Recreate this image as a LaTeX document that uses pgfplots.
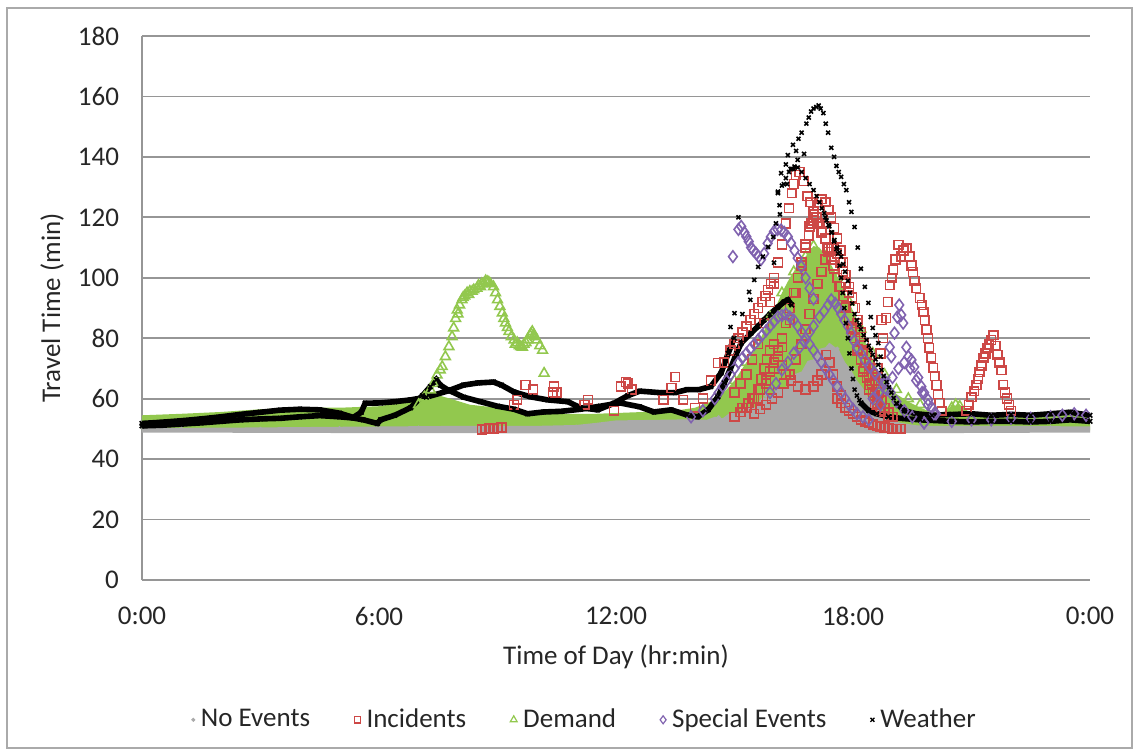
\documentclass[border=0pt]{standalone}
\usepackage{fontspec}
\setmainfont{Carlito}
\usepackage{pgfplots}
\pgfplotsset{compat=1.18}
\definecolor{gridc}{RGB}{150,150,150}
\definecolor{grayc}{RGB}{170,170,170}
\definecolor{redc}{RGB}{205,72,70}
\definecolor{greenc}{RGB}{146,200,78}
\definecolor{purplec}{RGB}{128,98,175}
\definecolor{framec}{RGB}{170,170,170}
\newcommand{\fs}{\fontsize{13.5}{16}\selectfont}
\begin{document}
\begin{tikzpicture}
\begin{axis}[
  width=474pt, height=272pt, scale only axis,
  xmin=0, xmax=24, ymin=0, ymax=180,
  xtick={0,6,12,18,24}, xticklabels={0:00,6:00,12:00,18:00,0:00},
  ytick={0,20,...,180},
  axis x line*=bottom, axis y line*=left,
  axis line style={gridc, line width=1.2pt, -},
  ymajorgrids, grid style={gridc, line width=0.9pt},
  major tick length=0pt,
  tick label style={font=\fs, text=black!85},
  /pgf/number format/assume math mode=true,
  yticklabel style={xshift=-8pt},
  xticklabel style={yshift=-10pt},
  xlabel={Time of Day (hr:min)}, ylabel={Travel Time (min)},
  xlabel style={at={(axis description cs:0.5,-0.1415)}, anchor=center, font=\fs, text=black!85},
  ylabel style={at={(axis description cs:-0.0949,0.5)}, anchor=center, font=\fs, text=black!85},
  legend style={at={(axis description cs:0.468,-0.257)}, anchor=center, draw=none, fill=none,
    legend columns=-1, font=\fs, text=black!85,
    /tikz/every odd column/.append style={column sep=1pt},
    /tikz/every even column/.append style={column sep=20pt}},
  legend image code/.code={\draw[#1] plot coordinates {(0pt,0pt)};},
  redsq/.style={forget plot, only marks, mark=square, mark size=2.2pt, color=redc, mark options={line width=0.8pt}},
  grtri/.style={forget plot, only marks, mark=triangle, mark size=2.8pt, color=greenc, mark options={line width=0.8pt}},
  pudia/.style={forget plot, only marks, mark=diamond, mark size=2.9pt, color=purplec, mark options={line width=0.8pt}},
  blx/.style={forget plot, only marks, mark=x, mark size=1.4pt, color=black, mark options={line width=0.8pt}},
  bline/.style={forget plot, black, line width=2.8pt, mark=x, mark size=1.6pt, mark options={line width=0.8pt}},
]
% ---------------- Demand dense cloud ----------------
\addplot[forget plot, draw=none, fill=greenc] coordinates {
(0,54.5) (1,55) (2,55.6) (3,56.5) (4,57) (5,57) (6,57.5) (6.5,58.5) (7,60) (7.4,61.5) (7.8,60) (8.3,58) (9,57) (9.8,55.5) (10.5,55) (11.5,55) (12.5,55.5) (13.5,56) (14,57) (14.4,59) (14.8,63) (15.0,66) (15.2,70) (15.4,74) (15.6,78) (15.8,84) (16.0,89) (16.2,95) (16.4,100) (16.6,104) (16.8,107) (17.0,110.5) (17.15,110) (17.3,107.5) (17.5,103) (17.7,98) (17.9,92) (18.1,86) (18.3,79) (18.5,73) (18.7,67.5) (18.9,64) (19.1,61.5) (19.4,59) (19.7,57) (20.0,55.5) (20.3,55.5) (20.5,57.5) (20.7,58) (20.9,56) (21.3,55) (22,55) (23,55) (24,55)
(24,49.5) (0,49.5)};
% ---------------- No Events dense cloud ----------------
\addplot[forget plot, draw=none, fill=grayc] coordinates {
(0,50.3) (2,50.4) (4,50.6) (6,50.8) (8,51) (10,51) (11,51.3) (11.5,52) (12,52.8) (13,53) (14,53.2) (14.3,53) (14.5,54) (14.7,53.5) (14.9,55.5) (15.1,55) (15.3,57.5) (15.5,57) (15.7,60.5) (15.9,60) (16.1,64) (16.3,63.5) (16.5,68) (16.7,69) (16.85,72.5) (17.0,73) (17.15,76.5) (17.3,77) (17.4,78.5) (17.5,77.5) (17.65,76) (17.8,72) (17.95,69.5) (18.1,66) (18.25,63.5) (18.4,60) (18.55,57.5) (18.7,55.5) (18.9,53.5) (19.2,52) (19.6,51.2) (20,51) (22,51) (24,50.8)
(24,48.8) (18,48.5) (12,48.5) (6,48.6) (0,48.8)};
\addplot[forget plot, only marks, mark=*, mark size=0.9pt, color=grayc] coordinates {
(1,50) (3,50) (5,50.2) (7,50.4) (9,50.6) (11,50.6) (13,51.5) (21,50.5) (23,50.5)
(14.6,53.8) (15.2,56.5) (15.8,61) (16.4,66) (16.9,71) (17.2,75) (17.6,76.5) (18.0,70) (18.5,59) (19.0,52.5)};
% ---------------- Demand triangles ----------------
\addplot[grtri] coordinates {
(7.0,58) (7.15,60.5) (7.3,62.9) (7.38,65) (7.47,67.8) (7.55,69.5) (7.6,70.6) (7.68,73.9) (7.77,77.2) (7.85,80.5) (7.89,83.4) (7.94,86.5) (7.98,89.3) (8.04,91) (8.1,92.7) (8.17,94) (8.23,95) (8.3,95.5) (8.4,96) (8.48,96.5) (8.57,97) (8.65,98) (8.74,98.7) (8.82,98) (8.9,97) (8.95,95) (9.0,92.7) (9.06,90.5) (9.12,88.3) (9.16,86.5) (9.2,85) (9.25,83.5) (9.29,82.2) (9.35,80.5) (9.42,79.4) (9.5,78.5) (9.59,77.2) (9.67,78) (9.76,79.4) (9.82,81) (9.88,82.2) (9.94,80.5) (10.0,79.4) (10.07,77.5) (10.14,76) (10.18,68.4)
(8.0,88) (8.13,93.5) (8.27,94.5) (8.36,95.5) (8.52,97.5) (8.6,98) (8.7,99) (8.78,98.5) (9.45,78) (9.55,77.5) (9.63,77) (9.72,78.5) (9.85,81.5) (9.92,81)
(15.0,66) (15.3,72) (15.6,78) (15.9,87) (16.2,95) (16.5,102) (16.8,107) (17.0,110.5) (17.3,107) (17.6,100) (17.9,92) (18.2,83) (18.5,75) (18.8,68) (19.1,63) (19.4,60) (19.7,58)
(20.5,57) (20.6,58) (20.7,57.5)};
% ---------------- Incidents ----------------
\addplot[redsq] coordinates {
(8.6,49.8) (8.7,50) (8.8,50.2) (8.9,50) (9.0,50.3) (9.1,50.5) (9.42,58) (9.5,59.6) (9.71,64.5) (9.9,63) (10.4,62) (10.43,64) (10.5,62) (11.2,58) (11.29,59.6) (11.95,56) (12.12,64) (12.25,65.5) (12.3,65) (12.4,63) (13.2,59.6) (13.4,63.5) (13.5,67.2) (13.7,59.6) (14.0,57) (14.2,60)};
\addplot[redsq] coordinates {
(15.0,62) (15.15,65) (15.3,68) (15.45,73) (15.6,78) (15.75,85) (15.9,92) (16.0,98) (16.1,105) (16.2,111) (16.3,118) (16.38,123) (16.45,128) (16.5,131) (16.55,134) (16.65,135) (16.75,132) (16.85,127) (16.92,125) (17.0,122) (17.08,120) (17.15,118) (17.22,115.5) (17.3,113) (17.38,109.5) (17.45,106) (17.52,103) (17.6,100) (17.68,97) (17.75,94) (17.82,90.5) (17.9,87) (17.98,83.5) (18.05,80) (18.12,76.5) (18.2,73) (18.28,70) (18.35,67) (18.42,64.5) (18.5,62) (18.6,59.5) (18.7,57) (18.8,55.5) (18.9,54)};
\addplot[redsq] coordinates {
(15.2,57) (15.35,58.5) (15.5,60) (15.65,63) (15.8,66) (15.9,69) (16.0,72) (16.1,76) (16.2,80) (16.3,85) (16.4,90) (16.5,95) (16.6,100) (16.7,105) (16.8,110) (16.88,114) (16.95,118) (17.02,121) (17.1,124) (17.2,126) (17.3,125) (17.38,122.5) (17.45,120) (17.52,116.5) (17.6,113) (17.68,109) (17.75,105) (17.82,101) (17.9,97) (17.98,93.5) (18.05,90) (18.12,86) (18.2,82) (18.28,78.5) (18.35,75) (18.42,71.5) (18.5,68) (18.58,65) (18.65,62) (18.72,59.5) (18.8,57) (18.9,55.5) (19.0,54)};
\addplot[redsq] coordinates {
(15.6,60) (15.8,65) (16.0,70) (16.2,77) (16.4,86) (16.55,95) (16.7,104) (16.8,111) (16.9,117) (17.0,119) (17.1,118) (17.2,115) (17.35,110) (17.5,104) (17.65,97) (17.8,90) (17.95,83) (18.1,76) (18.25,69) (18.4,63) (18.55,58)};
\addplot[redsq] coordinates {
(15.5,55) (15.65,56.5) (15.8,58) (15.95,60) (16.1,62) (16.25,65) (16.4,68) (16.55,73) (16.7,78) (16.8,83) (16.9,88) (17.0,93) (17.1,98) (17.2,102) (17.3,106) (17.38,108.5) (17.45,110) (17.52,109.5) (17.6,108) (17.68,105) (17.75,102) (17.82,98.5) (17.9,95) (18.0,90) (18.1,85) (18.18,80.5) (18.25,76) (18.32,72) (18.4,68) (18.48,64.5) (18.55,61) (18.62,58.5) (18.7,56)};
\addplot[redsq] coordinates {
(15.0,54) (15.15,55.5) (15.3,57) (15.45,60) (15.6,63) (15.68,66.5) (15.75,70) (15.82,73) (15.9,76) (16.0,78) (16.1,74) (16.2,71) (16.3,68) (16.43,66) (16.6,64) (16.8,63) (17.0,64) (17.1,66) (17.2,68) (17.32,74.5) (17.4,72) (17.5,68) (17.6,64) (17.7,61)
(17.6,60) (17.7,58.5) (17.8,57) (17.9,56) (18.0,55) (18.1,54) (18.2,53) (18.3,52.5) (18.4,52) (18.5,51.5) (18.6,51) (18.7,50.8) (18.8,50.5) (18.9,50.3) (19.0,50) (19.1,50) (19.2,50)
(14.4,66) (14.58,71.8) (14.74,72) (14.9,76) (15.0,78) (15.1,80) (15.2,82) (15.3,84) (15.4,86) (15.5,88) (15.6,90) (15.7,92) (15.78,94) (15.85,96) (15.92,98) (16.0,100)};
\addplot[redsq] coordinates {
(18.55,66) (18.62,70) (18.7,75) (18.72,86) (18.76,80) (18.84,86.7) (18.88,92) (18.93,97.6) (18.98,100) (19.02,102.6) (19.08,106) (19.15,110.9) (19.22,107) (19.28,109) (19.35,109.8) (19.43,107) (19.48,104) (19.52,101.9) (19.56,99) (19.6,96.6) (19.69,93.3) (19.74,91) (19.78,88.7) (19.82,86) (19.86,82.7) (19.9,80) (19.93,76.8) (19.98,73.5) (20.03,70.2) (20.07,67.5) (20.11,64.5) (20.15,61.5) (20.19,58.6) (20.25,56)
(20.87,56) (20.93,58) (21.0,60.5) (21.07,62.5) (21.13,64.5) (21.17,66.5) (21.2,68.8) (21.25,71) (21.3,73.5) (21.35,75) (21.4,76.8) (21.45,78) (21.5,79.4) (21.56,81) (21.61,77.5) (21.66,74.5) (21.71,72) (21.76,69.5) (21.8,64.5) (21.85,62) (21.9,60) (21.95,58) (22.0,56)};
% ---------------- Special Events ----------------
\addplot[pudia] coordinates {
(14.96,107) (15.1,116) (15.17,117) (15.25,115) (15.3,113.6) (15.36,112) (15.42,110) (15.48,109) (15.55,108) (15.61,107) (15.67,106) (15.75,108) (15.84,111.4) (15.92,113.5) (16.0,115.3) (16.09,116) (16.18,115.8) (16.26,115) (16.35,113.6) (16.43,111.5) (16.52,109) (16.6,106.5) (16.69,103.7) (16.8,100) (16.9,96.5) (17.0,93)};
\addplot[pudia] coordinates {
(13.9,54) (14.2,56) (14.5,60) (14.6,62) (14.7,64) (14.8,66) (14.9,68) (15.0,70) (15.1,72) (15.2,73.5) (15.3,75) (15.4,76.5) (15.5,78) (15.6,79.5) (15.7,81) (15.8,82.5) (15.9,84) (16.0,85.5) (16.1,87) (16.2,87.5) (16.3,88) (16.4,87) (16.5,86) (16.6,84) (16.7,82) (16.8,80) (16.9,78) (17.0,76) (17.1,74) (17.2,72) (17.3,70) (17.4,68) (17.5,66) (17.6,64) (17.7,62) (17.8,60) (17.9,58) (18.0,56.5) (18.1,55) (18.25,54) (18.4,53)};
\addplot[pudia] coordinates {
(15.9,62) (16.05,65) (16.2,69.5) (16.35,72) (16.5,75) (16.65,77) (16.77,79) (16.9,82) (17.0,84) (17.15,87) (17.27,89) (17.37,91) (17.45,92.7) (17.55,91.5) (17.62,90) (17.7,88) (17.78,86) (17.87,84) (17.95,81.7) (18.03,79) (18.1,77) (18.2,75) (18.3,72.8) (18.42,70.5) (18.55,68.5) (18.68,66.5) (18.8,65) (18.95,62) (19.1,59) (19.3,56) (19.5,54) (19.8,52)};
\addplot[pudia] coordinates {
(18.5,60) (18.65,62) (18.8,66) (18.93,77) (18.97,73.9) (19.05,81.7) (19.12,87) (19.17,91) (19.22,87.7) (19.27,85) (19.35,77) (19.4,73.9) (19.48,72.8) (19.55,70.5) (19.65,67) (19.73,64) (19.8,62) (19.9,59.6) (20.0,57) (20.1,55)
(18.7,58) (18.85,63) (19.0,67) (19.15,70) (19.3,72) (19.45,70) (19.6,66) (19.75,62) (19.9,58) (20.05,55)
(19.8,52) (20.5,52.5) (21,53) (21.5,53) (22,53.5) (22.5,53.5) (23,54) (23.3,54.5) (23.6,55) (23.9,54.5)};
% ---------------- Weather ----------------
\addplot[bline] coordinates {
(0,51) (0.5,51.2) (1,51.6) (1.5,52) (2,52.5) (2.5,53) (3,53.3) (3.5,53.5) (4,54) (4.5,54.4) (5,54) (5.35,53.6) (5.6,53) (5.96,51.8) (6.04,53) (6.4,54.5) (6.8,57) (7.1,61) (7.3,64) (7.45,66.3) (7.55,64.5) (7.73,63) (8.14,60.5) (8.57,59) (9.0,57.5) (9.42,56.5) (9.76,55) (10.17,55.6) (10.6,55.8) (11.1,56.5) (11.6,57.5) (12.1,58.6) (12.6,57.3) (12.96,55.6) (13.4,56.3) (13.8,54.6) (14.07,54) (14.33,56.3) (14.58,60.6) (14.74,65.2) (14.9,70) (15.05,75) (15.17,78.4) (15.42,81.7) (15.6,84) (15.75,86) (15.9,88) (16.1,90.3) (16.25,92) (16.35,92.7) (16.45,91)};
\addplot[bline] coordinates {
(0,51.8) (0.5,52.2) (1,52.7) (1.5,53.3) (2,54) (2.5,54.8) (3,55.5) (3.5,56.2) (4,56.5) (4.5,56.3) (5,55.2) (5.35,53.8) (5.55,55.5) (5.65,58.5) (6.04,58.6) (6.4,59) (6.8,59.6) (7.2,60.5) (7.73,62.5) (8.14,64.5) (8.5,65.2) (8.9,65.5) (9.1,64.5) (9.42,62.2) (9.84,60.6) (10.27,59.6) (10.78,59) (11.1,57) (11.54,56.3) (11.95,58.5) (12.3,61) (12.6,62.5) (13.1,62) (13.5,62) (13.8,63) (14.1,63) (14.4,64) (14.66,68.5) (14.84,75) (14.99,80)};
\addplot[blx] coordinates {
(14.9,83.7) (15.0,88.3) (15.1,120) (15.2,88) (15.37,95.3) (15.4,92.7) (15.5,99.3) (15.6,103.6) (15.72,107) (15.85,110.2) (15.98,113.5) (16.0,105) (16.05,118) (16.1,128.5) (16.14,124) (16.15,121) (16.18,134.6) (16.25,131) (16.3,137.5) (16.33,131) (16.35,140.6) (16.42,136) (16.48,144) (16.5,136) (16.56,142) (16.6,139) (16.62,146) (16.7,148) (16.76,141) (16.82,151) (16.88,153) (16.94,155) (17.0,156) (17.07,156.5) (17.13,157) (17.18,156) (17.25,154.5) (17.31,151) (17.37,148) (17.45,143) (17.52,140) (17.58,137) (17.64,135) (17.7,133.4) (17.77,131) (17.83,129) (17.9,125) (17.96,121.8) (18.04,116.8) (18.12,110) (18.2,103) (18.3,97) (18.39,91.7) (18.45,87) (18.5,83.4) (18.57,81) (18.64,78.4) (18.7,73.9)};
\addplot[blx] coordinates {
(16.1,128) (16.2,130.5) (16.3,133) (16.38,135) (16.45,136) (16.52,136.8) (16.6,136.5) (16.7,135) (16.8,133) (16.9,131) (17.0,129) (17.08,127) (17.15,125) (17.21,123) (17.27,121.4) (17.33,119) (17.4,117) (17.47,115) (17.53,112.5) (17.6,110) (17.66,108.5) (17.7,107) (17.75,104.5) (17.8,102) (17.87,99) (17.92,95) (17.98,91.5) (18.04,88) (18.1,86) (18.16,84.5) (18.2,83) (18.27,81) (18.34,79.4) (18.4,77.5) (18.45,76) (18.5,74.5) (18.57,73) (18.64,71.2) (18.72,69.5) (18.78,67.5) (18.85,65.5) (18.91,63.8) (18.97,62) (19.03,60.2) (19.1,58.5)
(17.3,120) (17.38,117.5) (17.45,115) (17.52,112) (17.58,109.5) (17.62,108) (17.66,104) (17.7,100) (17.74,95) (17.78,90) (17.82,85) (17.87,80) (17.91,75) (17.96,70) (18.0,66.5) (18.04,63) (18.1,61) (18.16,59.5) (18.2,58.6)};
\addplot[bline] coordinates {
(19.1,58.5) (19.3,56) (19.6,55) (20,54.5) (20.5,54.8) (21,55) (21.5,54.5) (22,54.8) (22.5,54.5) (23,55) (23.5,55.5) (24,54.5)};
\addplot[bline] coordinates {
(18.2,58.6) (18.4,56) (18.6,55) (18.9,54) (19.2,53.5) (19.7,53) (20.5,52.5) (21,52.3) (21.5,52.5) (22,52.5) (22.5,52.3) (23,52.5) (23.5,53) (24,52.5)};
% ---------------- legend ----------------
\addlegendimage{only marks, mark=*, mark size=0.8pt, color=grayc}
\addlegendentry{No Events}
\addlegendimage{only marks, mark=square, mark size=1.6pt, color=redc, mark options={line width=0.6pt}}
\addlegendentry{Incidents}
\addlegendimage{only marks, mark=triangle, mark size=2pt, color=greenc, mark options={line width=0.6pt}}
\addlegendentry{Demand}
\addlegendimage{only marks, mark=diamond, mark size=2pt, color=purplec, mark options={line width=0.6pt}}
\addlegendentry{Special Events}
\addlegendimage{only marks, mark=x, mark size=1.4pt, color=black, mark options={line width=0.7pt}}
\addlegendentry{Weather}
\end{axis}
\draw[framec, line width=0.8pt] ([xshift=-67.5pt,yshift=-84pt]current axis.south west) rectangle ([xshift=21pt,yshift=14pt]current axis.north east);
\path ([xshift=-71pt,yshift=-87.5pt]current axis.south west) rectangle ([xshift=24.5pt,yshift=18pt]current axis.north east);
\end{tikzpicture}
\end{document}
